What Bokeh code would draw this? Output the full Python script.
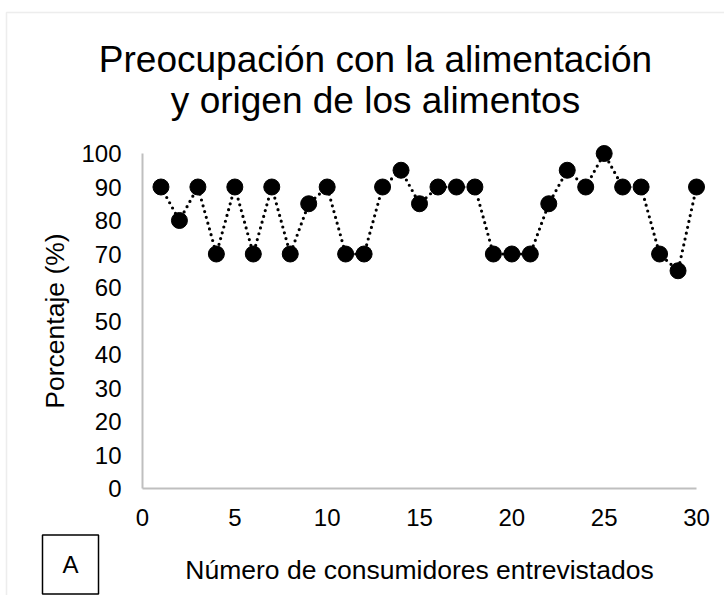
from bokeh.plotting import figure
from bokeh.models import Range1d, Label, BoxAnnotation, FixedTicker, ColumnDataSource
from bokeh.embed import file_html
from bokeh.resources import INLINE

# Data
consumers = list(range(1, 31))
percent = [90, 80, 90, 70, 90, 70, 90, 70, 85, 90,
           70, 70, 90, 95, 85, 90, 90, 90, 70, 70,
           70, 85, 95, 90, 100, 90, 90, 70, 65, 90]
x_ticks = [0, 5, 10, 15, 20, 25, 30]
y_ticks = [0, 10, 20, 30, 40, 50, 60, 70, 80, 90, 100]
title_lines = ["Preocupación con la alimentación", "y origen de los alimentos"]
x_label = "Número de consumidores entrevistados"
y_label = "Porcentaje (%)"
panel_tag = "A"

FONT = "Liberation Sans"
AXIS_GRAY = "#bfbfbf"

# Canvas geometry (pixels) and the mapping of the data scale onto it
W, H = 724, 595
X0_PX, X_PX_PER_UNIT = 142.0, 18.467   # pixel of x=0 and pixels per unit
Y0_PX, Y_PX_PER_UNIT = 488.0, 3.35     # pixel of y=0 (from top) and pixels per unit


def px2x(px):
    return (px - X0_PX) / X_PX_PER_UNIT


def px2y(py):
    return (Y0_PX - py) / Y_PX_PER_UNIT


src = ColumnDataSource(dict(x=consumers, y=percent))

p = figure(width=W, height=H, output_backend="svg", toolbar_location=None,
           x_range=Range1d(px2x(0), px2x(W)), y_range=Range1d(px2y(H), px2y(0)),
           min_border=0)
p.outline_line_color = None
p.xgrid.visible = False
p.ygrid.visible = False
p.background_fill_color = "white"
p.border_fill_color = "white"

# Outer light border of the panel (only top/left edges fall inside the canvas)
p.add_layout(BoxAnnotation(left=px2x(6), right=px2x(W + 50), top=px2y(12), bottom=px2y(H + 50),
                           fill_alpha=0, line_color="#c4c4c4", line_width=1.5))

p.line("x", "y", source=src, line_color="black", line_width=3.2,
       line_dash="0 6", line_cap="round")
p.scatter("x", "y", source=src, size=16, fill_color="black", line_color="black")

for ax in (p.xaxis[0], p.yaxis[0]):
    ax.fixed_location = 0
    ax.axis_line_color = AXIS_GRAY
    ax.axis_line_width = 2
    ax.major_tick_line_color = None
    ax.minor_tick_line_color = None
    ax.major_label_text_font = FONT
    ax.major_label_text_font_size = "24px"
    ax.major_label_text_color = "black"
    ax.axis_label_text_font = FONT
    ax.axis_label_text_font_size = "26.5px"
    ax.axis_label_text_font_style = "normal"
    ax.axis_label_text_color = "black"

p.xaxis[0].ticker = FixedTicker(ticks=x_ticks)
p.yaxis[0].ticker = FixedTicker(ticks=y_ticks)
p.xaxis[0].bounds = (x_ticks[0], x_ticks[-1])
p.yaxis[0].bounds = (y_ticks[0], y_ticks[-1])
p.xaxis[0].axis_label = x_label
p.yaxis[0].axis_label = y_label
p.xaxis[0].major_label_standoff = 14
p.xaxis[0].axis_label_standoff = 26
p.yaxis[0].major_label_standoff = 15
p.yaxis[0].axis_label_standoff = 8

# Title lines
for txt, base_px in zip(title_lines, [59, 100]):
    p.add_layout(Label(x=px2x(375), y=px2y(base_px), text=txt,
                       text_font=FONT, text_font_size="37px", text_color="black",
                       text_align="center", text_baseline="alphabetic"))

# Panel tag box
p.add_layout(Label(x=px2x(70), y=px2y(564), text=panel_tag,
                   text_font=FONT, text_font_size="24px", text_color="black",
                   text_align="center", text_baseline="middle",
                   border_line_color="black", border_line_width=1.5,
                   padding=(20, 16)))

open("out.html", "w").write(file_html(p, INLINE))
